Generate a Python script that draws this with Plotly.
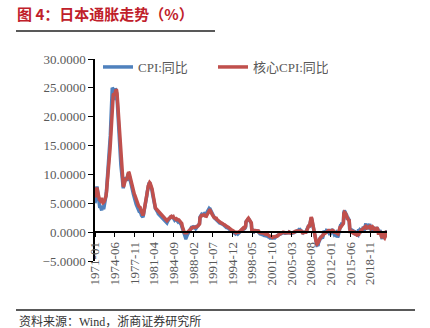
import plotly.graph_objects as go

# Japan CPI year-on-year, monthly, 1971-01 .. 2021-10 (%)
cpi_yoy = [
    5.0, 6.0, 6.9, 7.6, 7.9, 7.4, 6.6, 5.8, 5.0, 4.5, 4.2, 4.3,          # 1971
    4.4, 4.0, 3.8, 4.2, 4.6, 4.2, 4.0, 4.4, 4.8, 5.2, 5.8, 6.4,          # 1972
    7.2, 8.2, 9.4, 10.6, 11.4, 12.4, 13.6, 15.2, 16.8, 19.0, 21.8, 24.2, # 1973
    25.0, 24.9, 23.4, 22.9, 23.6, 24.4, 24.9, 24.7, 23.9, 24.2, 23.2, 21.6,  # 1974
    19.8, 17.8, 15.8, 14.2, 13.4, 12.8, 11.6, 10.8, 10.0, 9.2, 8.0, 7.6, # 1975
    8.2, 8.9, 9.2, 9.3, 9.4, 9.1, 8.9, 9.3, 9.9, 10.1, 10.0, 9.9,        # 1976
    9.6, 9.2, 8.8, 8.6, 8.3, 7.8, 7.3, 7.0, 6.6, 6.2, 5.9, 5.6,          # 1977
    5.4, 5.1, 4.8, 4.6, 4.3, 4.1, 4.0, 3.8, 3.6, 3.6, 3.5, 3.3,          # 1978
    3.2, 2.9, 2.8, 2.7, 2.6, 3.0, 3.4, 3.8, 4.3, 4.7, 5.1, 5.6,          # 1979
    6.3, 7.0, 7.7, 8.2, 8.6, 8.6, 8.5, 8.3, 8.1, 7.9, 7.6, 7.2,          # 1980
    6.6, 6.0, 5.4, 5.0, 4.6, 4.3, 4.1, 4.0, 3.9, 3.8, 3.6, 3.4,          # 1981
    3.2, 3.1, 3.0, 3.0, 2.9, 2.8, 2.6, 2.5, 2.4, 2.3, 2.2, 2.1,          # 1982
    2.0, 1.9, 1.9, 1.8, 1.8, 1.7, 1.6, 1.8, 2.0, 2.1, 2.2, 2.3,          # 1983
    2.4, 2.6, 2.7, 2.8, 2.6, 2.9, 2.7, 2.5, 2.3, 2.2, 2.1, 2.2,          # 1984
    2.2, 2.0, 2.2, 2.0, 1.9, 2.1, 2.0, 1.9, 1.8, 1.6, 1.5, 1.4,          # 1985
    1.3, 1.0, 0.7, 0.3, 0.0, -0.2, -0.4, -0.6, -0.8, -1.0, -1.0, -0.9,   # 1986
    -0.6, -0.4, -0.2, 0.0, 0.2, 0.3, 0.4, 0.5, 0.6, 0.8, 0.8, 0.9,       # 1987
    0.9, 0.8, 0.9, 0.8, 0.9, 0.7, 0.6, 0.7, 0.8, 0.9, 1.0, 1.1,          # 1988
    1.2, 1.4, 1.5, 2.6, 2.9, 3.0, 3.0, 2.9, 2.9, 3.1, 3.1, 3.2,          # 1989
    3.2, 3.3, 3.4, 2.9, 3.0, 3.2, 3.5, 3.6, 3.8, 4.0, 4.1, 4.0,          # 1990
    4.0, 3.8, 3.7, 3.4, 3.2, 3.0, 2.9, 2.8, 2.6, 2.5, 2.4, 2.3,          # 1991
    2.2, 2.2, 2.1, 2.0, 1.9, 1.8, 1.8, 1.7, 1.6, 1.6, 1.5, 1.5,          # 1992
    1.4, 1.4, 1.4, 1.3, 1.3, 1.2, 1.2, 1.1, 1.0, 0.9, 0.8, 0.8,          # 1993
    0.8, 0.8, 0.7, 0.6, 0.5, 0.5, 0.4, 0.3, 0.3, 0.2, 0.1, 0.1,          # 1994
    0.1, 0.0, -0.1, -0.2, -0.3, -0.3, -0.2, -0.2, -0.1, -0.2, -0.3, -0.2,  # 1995
    -0.1, 0.0, 0.0, 0.1, 0.2, 0.3, 0.4, 0.5, 0.5, 0.6, 0.5, 0.5,         # 1996
    0.6, 0.7, 0.9, 1.8, 1.9, 2.0, 2.1, 2.2, 2.3, 2.2, 2.1, 1.9,          # 1997
    1.8, 1.7, 1.5, 0.3, 0.2, 0.2, 0.1, 0.2, 0.1, 0.2, 0.2, 0.2,          # 1998
    0.1, 0.1, 0.1, 0.2, 0.2, 0.0, -0.2, -0.3, -0.3, -0.3, -0.4, -0.4,    # 1999
    -0.4, -0.4, -0.5, -0.5, -0.5, -0.6, -0.6, -0.6, -0.6, -0.6, -0.6, -0.6,  # 2000
    -0.7, -0.8, -0.8, -0.9, -0.9, -1.0, -1.0, -1.0, -1.0, -1.1, -1.1, -1.0,  # 2001
    -1.0, -1.0, -1.0, -1.0, -0.9, -0.8, -0.8, -0.8, -0.7, -0.6, -0.5, -0.5,  # 2002
    -0.4, -0.3, -0.3, -0.3, -0.3, -0.2, -0.2, -0.2, -0.1, -0.1, -0.2, -0.2,  # 2003
    -0.2, -0.2, -0.2, -0.2, -0.2, -0.1, -0.1, -0.2, -0.1, 0.0, -0.1, -0.1,   # 2004
    -0.2, -0.2, -0.2, -0.2, -0.1, -0.1, -0.1, -0.1, 0.0, 0.0, 0.1, 0.1,  # 2005
    0.1, 0.2, 0.2, 0.3, 0.3, 0.4, 0.3, 0.3, 0.4, 0.3, 0.3, 0.2,          # 2006
    0.1, 0.0, -0.1, 0.0, 0.0, -0.2, 0.0, -0.2, -0.1, 0.2, 0.5, 0.7,      # 2007
    0.7, 1.0, 1.2, 0.8, 1.3, 2.0, 2.4, 2.5, 2.2, 1.7, 1.0, 0.4,          # 2008
    0.0, -0.1, -0.3, -0.6, -1.1, -1.8, -2.2, -2.3, -2.3, -2.4, -1.9, -1.7,   # 2009
    -1.3, -1.1, -1.1, -1.2, -0.9, -0.7, -0.9, -0.9, -0.6, 0.2, 0.1, 0.0,     # 2010
    0.0, 0.0, 0.0, 0.3, 0.3, 0.2, 0.2, 0.2, 0.0, -0.2, -0.5, -0.2,       # 2011
    0.1, 0.3, 0.5, 0.4, 0.2, -0.2, -0.4, -0.4, -0.3, -0.4, -0.2, -0.1,   # 2012
    -0.3, -0.7, -0.9, -0.7, -0.3, 0.2, 0.7, 0.9, 1.1, 1.1, 1.5, 1.6,     # 2013
    1.4, 1.5, 1.6, 3.4, 3.7, 3.6, 3.4, 3.3, 3.2, 2.9, 2.4, 2.4,          # 2014
    2.4, 2.2, 2.3, 0.6, 0.5, 0.4, 0.2, 0.2, 0.0, 0.3, 0.3, 0.2,          # 2015
    0.0, 0.3, 0.0, -0.3, -0.5, -0.4, -0.4, -0.5, -0.5, 0.1, 0.5, 0.3,    # 2016
    0.4, 0.3, 0.2, 0.4, 0.4, 0.4, 0.4, 0.7, 0.7, 0.2, 0.6, 1.0,          # 2017
    1.4, 1.5, 1.1, 0.6, 0.7, 0.7, 0.9, 1.3, 1.2, 1.4, 0.8, 0.3,          # 2018
    0.2, 0.2, 0.5, 0.9, 0.7, 0.7, 0.5, 0.3, 0.2, 0.2, 0.5, 0.8,          # 2019
    0.7, 0.4, 0.4, 0.1, 0.1, 0.1, 0.3, 0.2, 0.0, -0.4, -0.9, -1.2,       # 2020
    -0.6, -0.5, -0.4, -1.1, -0.8, -0.5, -0.3, -0.4, 0.2, 0.1,            # 2021
]

# Japan core CPI (ex fresh food) year-on-year, same months (%)
core_cpi_yoy = [
    6.0, 6.6, 7.2, 7.6, 7.7, 7.3, 6.7, 6.2, 5.9, 5.7, 5.6, 5.5,          # 1971
    5.7, 5.9, 5.6, 5.3, 5.2, 5.3, 5.2, 5.3, 5.5, 5.7, 6.0, 6.3,          # 1972
    7.0, 7.8, 8.7, 9.7, 10.5, 11.5, 12.7, 14.0, 15.2, 17.0, 19.0, 21.0,  # 1973
    22.2, 23.3, 23.8, 24.0, 23.8, 23.9, 24.2, 24.5, 24.7, 24.6, 24.0, 22.8,  # 1974
    21.0, 19.4, 17.6, 16.0, 14.7, 13.6, 12.4, 11.4, 10.7, 9.6, 8.4, 7.9, # 1975
    8.0, 8.6, 8.9, 9.1, 9.3, 9.1, 9.0, 9.4, 9.8, 10.2, 10.4, 10.3,       # 1976
    10.0, 9.6, 9.2, 8.9, 8.5, 8.2, 7.8, 7.5, 7.1, 6.8, 6.6, 6.4,         # 1977
    6.1, 5.8, 5.5, 5.2, 5.0, 4.8, 4.7, 4.5, 4.4, 4.4, 4.3, 4.0,          # 1978
    3.7, 3.4, 3.2, 3.0, 2.9, 3.1, 3.5, 3.9, 4.3, 4.8, 5.3, 5.7,          # 1979
    6.2, 6.8, 7.4, 8.0, 8.4, 8.6, 8.6, 8.5, 8.3, 8.1, 7.9, 7.5,          # 1980
    7.0, 6.4, 5.9, 5.3, 4.8, 4.4, 4.2, 4.1, 4.0, 3.9, 3.8, 3.7,          # 1981
    3.6, 3.5, 3.4, 3.3, 3.2, 3.1, 3.0, 2.9, 2.8, 2.7, 2.6, 2.5,          # 1982
    2.4, 2.3, 2.2, 2.2, 2.1, 2.1, 2.0, 2.1, 2.2, 2.3, 2.4, 2.4,          # 1983
    2.5, 2.6, 2.6, 2.7, 2.6, 2.7, 2.6, 2.7, 2.5, 2.4, 2.3, 2.4,          # 1984
    2.3, 2.2, 2.3, 2.2, 2.1, 2.2, 2.1, 2.1, 2.0, 1.9, 1.9, 1.8,          # 1985
    1.8, 1.5, 1.0, 0.6, 0.2, 0.1, 0.0, -0.1, -0.1, -0.2, -0.2, -0.2,     # 1986
    -0.1, 0.0, 0.1, 0.2, 0.3, 0.4, 0.5, 0.6, 0.7, 0.7, 0.7, 0.8,         # 1987
    0.8, 0.8, 0.9, 0.9, 0.9, 0.8, 0.8, 0.9, 0.9, 1.0, 1.0, 1.1,          # 1988
    1.2, 1.3, 1.4, 2.5, 2.8, 2.9, 2.9, 2.9, 2.9, 3.0, 3.0, 3.0,          # 1989
    3.0, 3.0, 3.1, 2.6, 2.7, 2.9, 3.1, 3.2, 3.4, 3.6, 3.8, 3.8,          # 1990
    3.8, 3.7, 3.6, 3.3, 3.1, 2.9, 2.7, 2.7, 2.6, 2.5, 2.5, 2.4,          # 1991
    2.4, 2.4, 2.2, 2.2, 2.1, 2.0, 1.9, 1.8, 1.7, 1.7, 1.6, 1.6,          # 1992
    1.6, 1.5, 1.5, 1.5, 1.4, 1.3, 1.3, 1.2, 1.1, 1.0, 1.0, 0.9,          # 1993
    0.9, 0.9, 0.9, 0.8, 0.7, 0.6, 0.6, 0.5, 0.5, 0.4, 0.3, 0.3,          # 1994
    0.3, 0.2, 0.1, 0.0, 0.0, -0.1, -0.1, 0.0, 0.0, -0.1, -0.1, 0.0,      # 1995
    0.0, 0.1, 0.1, 0.2, 0.3, 0.4, 0.4, 0.5, 0.6, 0.7, 0.6, 0.6,          # 1996
    0.7, 0.9, 1.0, 1.8, 2.0, 2.1, 2.2, 2.3, 2.4, 2.3, 2.2, 2.0,          # 1997
    1.9, 1.8, 1.6, 0.4, 0.3, 0.3, 0.3, 0.3, 0.2, 0.3, 0.3, 0.3,          # 1998
    0.2, 0.2, 0.2, 0.3, 0.3, 0.2, 0.0, -0.1, -0.1, -0.1, -0.1, -0.1,     # 1999
    -0.1, -0.1, -0.2, -0.2, -0.2, -0.2, -0.3, -0.3, -0.3, -0.3, -0.3, -0.3,  # 2000
    -0.4, -0.5, -0.5, -0.6, -0.7, -0.7, -0.8, -0.8, -0.8, -0.8, -0.9, -0.8,  # 2001
    -0.8, -0.8, -0.8, -0.8, -0.8, -0.8, -0.8, -0.8, -0.7, -0.6, -0.5, -0.5,  # 2002
    -0.4, -0.3, -0.3, -0.3, -0.2, -0.1, -0.1, -0.1, 0.0, 0.0, -0.1, -0.1,    # 2003
    -0.1, -0.1, -0.1, -0.2, -0.2, -0.1, -0.1, -0.1, -0.1, 0.0, -0.1, 0.0,    # 2004
    -0.2, -0.2, -0.1, -0.1, 0.0, 0.0, 0.0, 0.0, 0.0, 0.1, 0.2, 0.2,      # 2005
    0.2, 0.2, 0.2, 0.3, 0.3, 0.3, 0.2, 0.3, 0.3, 0.3, 0.2, 0.1,          # 2006
    0.0, -0.1, -0.3, 0.0, 0.0, 0.0, 0.0, -0.1, 0.0, 0.1, 0.4, 0.8,       # 2007
    0.8, 1.0, 1.2, 0.9, 1.5, 1.9, 2.5, 2.6, 2.4, 1.9, 1.0, 0.7,          # 2008
    0.5, 0.1, -0.1, -0.6, -1.1, -1.6, -2.0, -2.1, -2.0, -1.9, -1.6, -1.3,    # 2009
    -1.2, -1.1, -1.0, -0.9, -0.8, -0.7, -0.6, -0.5, -0.4, -0.2, -0.2, -0.2,  # 2010
    -0.2, -0.1, -0.1, 0.0, 0.2, 0.3, 0.3, 0.3, 0.3, 0.1, 0.0, 0.0,       # 2011
    0.1, 0.1, 0.2, 0.3, 0.3, 0.2, 0.2, 0.0, 0.0, 0.0, 0.0, 0.0,          # 2012
    -0.1, -0.2, -0.3, -0.3, 0.0, 0.4, 0.7, 0.8, 0.8, 0.9, 1.2, 1.3,      # 2013
    1.3, 1.4, 1.5, 3.2, 3.4, 3.3, 3.3, 3.1, 3.0, 2.9, 2.7, 2.5,          # 2014
    2.2, 2.0, 2.2, 0.3, 0.1, 0.1, 0.0, -0.1, -0.1, -0.1, 0.1, 0.1,       # 2015
    0.0, 0.0, -0.3, -0.3, -0.4, -0.4, -0.5, -0.5, -0.5, -0.4, -0.4, -0.2,    # 2016
    0.1, 0.2, 0.2, 0.3, 0.4, 0.4, 0.5, 0.7, 0.7, 0.8, 0.9, 0.9,          # 2017
    0.9, 1.0, 0.9, 0.7, 0.7, 0.8, 0.8, 0.9, 1.0, 1.0, 0.9, 0.7,          # 2018
    0.8, 0.7, 0.8, 0.9, 0.8, 0.6, 0.6, 0.5, 0.3, 0.4, 0.5, 0.7,          # 2019
    0.8, 0.6, 0.4, -0.2, -0.2, 0.0, 0.0, -0.4, -0.3, -0.7, -0.9, -1.0,   # 2020
    -0.6, -0.5, -0.2, -0.9, -1.0, -0.8, -0.6, 0.0, 0.1, 0.1,             # 2021
]

tick_labels = ["1971-01", "1974-06", "1977-11", "1981-04", "1984-09",
               "1988-02", "1991-07", "1994-12", "1998-05", "2001-10",
               "2005-03", "2008-08", "2012-01", "2015-06", "2018-11"]
y_ticks = [-5, 0, 5, 10, 15, 20, 25, 30]

# monthly category labels
months = []
year, month = 1971, 1
while len(months) < len(cpi_yoy):
    months.append(f"{year}-{month:02d}")
    month += 1
    if month > 12:
        year, month = year + 1, 1

W, H = 430, 328
L, R, T, B = 95, 43, 59, 67
PW, PH = W - L - R, H - T - B


def px_x(x):
    return (x - L) / PW


def px_y(y):
    return (H - B - y) / PH


SERIF = "Liberation Serif, Noto Sans CJK SC, serif"
GREY = "#595959"

fig = go.Figure()
fig.add_trace(go.Scatter(x=months, y=cpi_yoy, name="CPI:同比", mode="lines",
                         line=dict(color="#4F81BD", width=3.5)))
fig.add_trace(go.Scatter(x=months, y=core_cpi_yoy, name="核心CPI:同比", mode="lines",
                         line=dict(color="#C0504D", width=3.5)))

fig.update_layout(
    width=W, height=H,
    margin=dict(l=L, r=R, t=T, b=B, pad=0),
    paper_bgcolor="white", plot_bgcolor="white",
    font=dict(family=SERIF, size=13, color=GREY),
    title=dict(text="<b>图 4：日本通胀走势（%）</b>", x=17 / W, xanchor="left",
               xref="container", y=1 - 15 / H, yref="container", yanchor="middle",
               font=dict(family="Noto Sans CJK SC", size=15, color="#C0202A")),
    showlegend=True,
    legend=dict(orientation="h", x=px_x(98), xanchor="left", y=px_y(52), yanchor="top",
                font=dict(family=SERIF, size=13, color=GREY),
                bgcolor="rgba(0,0,0,0)", entrywidth=70, entrywidthmode="pixels",
                traceorder="normal"),
    xaxis=dict(type="category", range=[0, len(months) - 1],
               tickmode="array", tickvals=tick_labels, ticktext=tick_labels,
               tickangle=-90, ticks="outside", ticklen=4, tickcolor="black",
               showline=True, linecolor="black", linewidth=1.5,
               showgrid=False, zeroline=False,
               anchor="free", position=5 / 35,
               tickfont=dict(family=SERIF, size=13, color=GREY)),
    yaxis=dict(range=[-5, 30], tickvals=y_ticks, tickformat=".4f",
               ticks="outside", ticklen=5, tickcolor="black",
               showline=True, linecolor="black", linewidth=1.5,
               showgrid=False, zeroline=False,
               tickfont=dict(family=SERIF, size=13, color=GREY)),
    shapes=[
        dict(type="line", xref="paper", yref="paper",
             x0=px_x(16), x1=px_x(215), y0=px_y(31), y1=px_y(31),
             line=dict(color="#222222", width=1.5)),
        dict(type="line", xref="paper", yref="paper",
             x0=px_x(16), x1=px_x(415), y0=px_y(310), y1=px_y(310),
             line=dict(color="#222222", width=1.5)),
    ],
    annotations=[
        dict(text="资料来源：Wind，浙商证券研究所", xref="paper", yref="paper",
             x=px_x(17), y=px_y(321), xanchor="left", yanchor="middle",
             showarrow=False, font=dict(family=SERIF, size=12, color="#333333")),
    ],
)

fig.write_html("out.html")
